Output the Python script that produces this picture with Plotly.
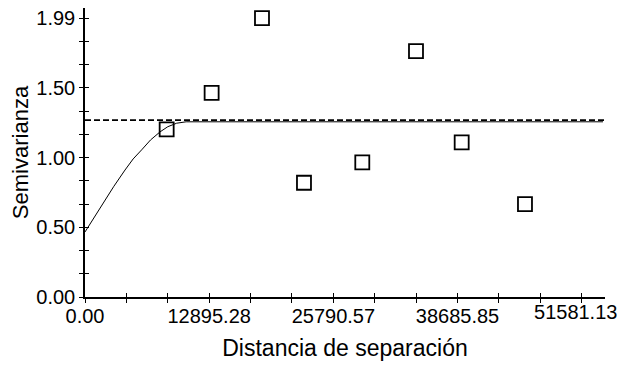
import plotly.graph_objects as go

# Experimental semivariogram points
lag_dist = [8480, 13150, 18380, 22740, 28795, 34372, 39117, 45690]
semivar = [1.196, 1.457, 1.99, 0.815, 0.96, 1.755, 1.103, 0.662]

# Fitted model curve
model_x = [0, 1558, 3000, 4154, 5000, 5885, 6800, 7788, 8600, 9520, 10000, 10500, 53790]
model_y = [0.464, 0.638, 0.79, 0.906, 0.985, 1.05, 1.12, 1.178, 1.215, 1.24, 1.247, 1.25, 1.25]

# Sill (dashed)
sill_x = [0, 53900]
sill_y = [1.262, 1.262]

# Axes
x_step = 12895.28
x_major_labels = ["0.00", "12895.28", "25790.57", "38685.85", "51581.13"]
y_major_labels = ["0.00", "0.50", "1.00", "1.50", "1.99"]
y_top = 1.99

x_range = [0, 54000]
y_range = [0, 2.062]

xt_vals = [i * x_step / 3 for i in range(13)]
# last major label drawn by its own overlay axis (it sits a bit higher in the original)
xt_text = [x_major_labels[i // 3] if (i % 3 == 0 and i < 12) else "" for i in range(13)]
yt_vals = [i * y_top / 12 for i in range(13)]
yt_text = [y_major_labels[i // 3] if i % 3 == 0 else "" for i in range(13)]

font_family = "Liberation Sans, Arial, sans-serif"

fig = go.Figure()
fig.add_trace(go.Scatter(x=sill_x, y=sill_y, mode="lines",
                         line=dict(color="black", width=1.8, dash="6px,3px"),
                         hoverinfo="skip", showlegend=False))
fig.add_trace(go.Scatter(x=model_x, y=model_y, mode="lines",
                         line=dict(color="black", width=1),
                         showlegend=False))
fig.add_trace(go.Scatter(x=lag_dist, y=semivar, mode="markers",
                         marker=dict(symbol="square-open", size=14, color="black",
                                     line=dict(width=1.8, color="black")),
                         showlegend=False))
# invisible traces for overlay axes
fig.add_trace(go.Scatter(x=[0], y=[0], xaxis="x2", yaxis="y2", mode="markers",
                         marker=dict(opacity=0), hoverinfo="skip", showlegend=False))
fig.add_trace(go.Scatter(x=[0], y=[0], xaxis="x3", yaxis="y2", mode="markers",
                         marker=dict(opacity=0), hoverinfo="skip", showlegend=False))

tfont = dict(family=font_family, size=20, color="black")
axis_common = dict(showgrid=False, zeroline=False, showline=True, linecolor="black",
                   linewidth=1.5, tickcolor="black", tickwidth=1.2, ticklen=4,
                   ticklabeloverflow="allow", tickfont=tfont)

fig.update_layout(
    width=617, height=360,
    margin=dict(l=77, r=20, t=0, b=71),
    plot_bgcolor="white", paper_bgcolor="white",
    font=dict(family=font_family, color="black"),
    xaxis=dict(range=x_range, tickmode="array", tickvals=xt_vals, ticktext=xt_text,
               ticks="outside", ticklabelstandoff=-4,
               title=dict(text="Distancia de separación", font=dict(size=23), standoff=14),
               **axis_common),
    yaxis=dict(range=y_range, tickmode="array", tickvals=yt_vals, ticktext=yt_text,
               ticks="outside",
               title=dict(text="Semivarianza", font=dict(size=22), standoff=4),
               **axis_common),
    xaxis2=dict(range=x_range, overlaying="x", anchor="y2", side="bottom",
                tickmode="array", tickvals=xt_vals, ticks="inside", ticklen=4,
                tickcolor="black", tickwidth=1.2, showticklabels=False,
                showgrid=False, zeroline=False, showline=False),
    xaxis3=dict(range=x_range, overlaying="x", anchor="y2", side="bottom",
                tickmode="array", tickvals=[xt_vals[12]], ticktext=[x_major_labels[4]],
                ticks="", showticklabels=True, tickfont=tfont,
                ticklabelshift=-6, ticklabelstandoff=1, ticklabeloverflow="allow",
                showgrid=False, zeroline=False, showline=False),
    yaxis2=dict(range=y_range, overlaying="y", anchor="x2", side="left",
                tickmode="array", tickvals=yt_vals, ticks="inside", ticklen=4,
                tickcolor="black", tickwidth=1.2, showticklabels=False,
                showgrid=False, zeroline=False, showline=False),
)

fig.write_html("out.html")
